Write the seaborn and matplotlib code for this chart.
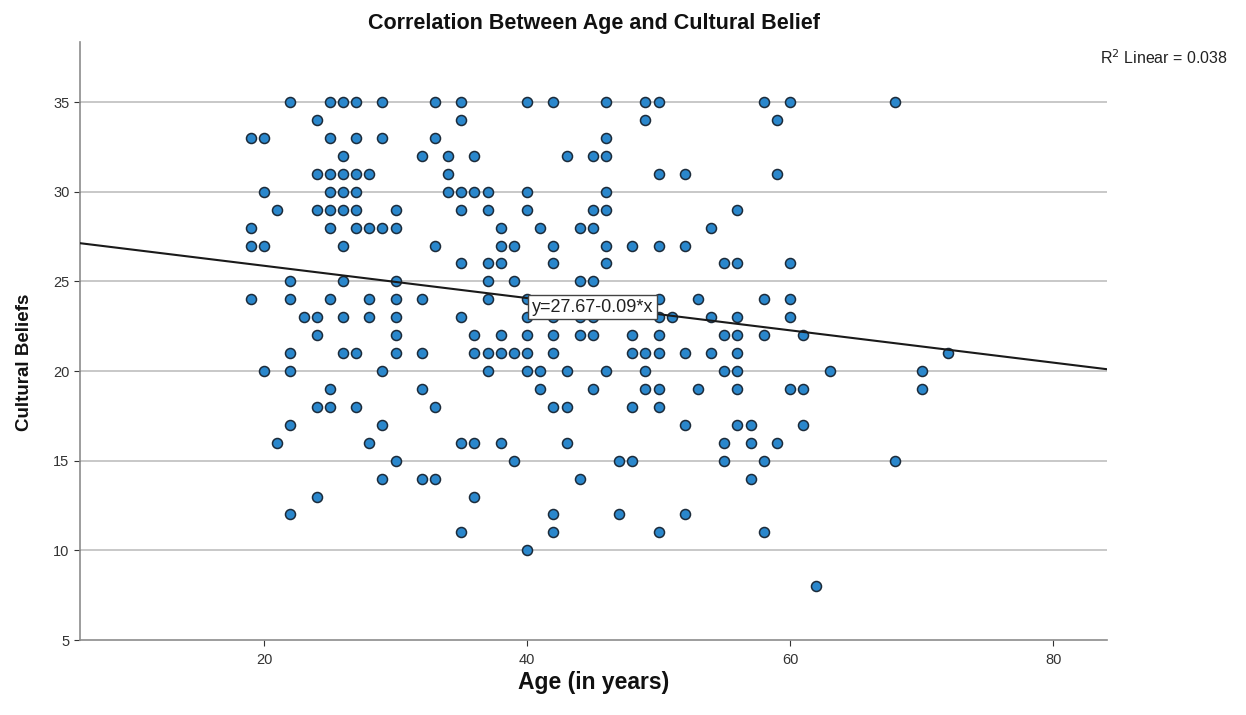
import numpy as np
import pandas as pd
import matplotlib
matplotlib.use("Agg")
import matplotlib.pyplot as plt
import seaborn as sns

# ---- data (age in years, cultural belief score) ----
b35 = [22, 25, 26, 27, 29, 33, 35, 40, 42, 46, 49, 50, 58, 60, 68]
b34 = [24, 35, 49, 59]
b33 = [19, 20, 25, 27, 29, 33, 46]
b32 = [26, 32, 34, 36, 43, 45, 46]
b31 = [24, 25, 26, 27, 28, 34, 50, 52, 59]
b30 = [20, 25, 26, 27, 34, 35, 36, 37, 40, 46]
b29 = [21, 24, 25, 26, 27, 30, 35, 37, 40, 45, 46, 56]
b28 = [19, 25, 27, 28, 29, 30, 38, 41, 44, 45, 54]
b27 = [19, 20, 26, 33, 38, 39, 42, 46, 48, 50, 52]
b26 = [35, 37, 38, 42, 46, 55, 56, 60]
b25 = [22, 26, 30, 37, 39, 44, 45]
b24 = [19, 22, 25, 28, 30, 32, 37, 40, 50, 53, 58, 60]
b23 = [23, 24, 26, 28, 30, 35, 40, 42, 44, 45, 50, 51, 54, 56, 60]
b22 = [24, 30, 36, 38, 40, 42, 44, 45, 48, 50, 55, 56, 58, 61]
b21 = [22, 26, 27, 30, 32, 36, 37, 38, 39, 40, 42, 48, 49, 50, 52, 54, 56, 72]
b20 = [20, 22, 29, 37, 40, 41, 43, 46, 49, 55, 56, 63, 70]
b19 = [25, 32, 41, 45, 49, 50, 53, 56, 60, 61, 70]
b18 = [24, 25, 27, 33, 42, 43, 48, 50]
b17 = [22, 29, 52, 56, 57, 61]
b16 = [21, 28, 35, 36, 38, 43, 55, 57, 59]
b15 = [30, 39, 47, 48, 55, 58, 68]
b14 = [29, 32, 33, 44, 57]
b13 = [24, 36]
b12 = [22, 42, 47, 52]
b11 = [35, 42, 50, 58]
b10 = [40]
b8 = [62]

rows = {35: b35, 34: b34, 33: b33, 32: b32, 31: b31, 30: b30, 29: b29, 28: b28,
        27: b27, 26: b26, 25: b25, 24: b24, 23: b23, 22: b22, 21: b21, 20: b20,
        19: b19, 18: b18, 17: b17, 16: b16, 15: b15, 14: b14, 13: b13, 12: b12,
        11: b11, 10: b10, 8: b8}

intercept = 27.67
slope = -0.09
r2_text = "R$^2$ Linear = 0.038"
eq_text = "y=27.67-0.09*x"
y_ticks = [5, 10, 15, 20, 25, 30, 35]
x_ticks = [20, 40, 60, 80]

ages, beliefs = [], []
for score, alist in rows.items():
    ages += alist
    beliefs += [score] * len(alist)
df = pd.DataFrame({"Age": ages, "Belief": beliefs})

# ---- figure ----
sns.set_style("white")
plt.rcParams['font.family'] = ['Liberation Sans', 'DejaVu Sans']

fig = plt.figure(figsize=(12.46, 7.15), dpi=100)
ax = fig.add_axes([80/1246, 1 - 640/715, (1107-80)/1246, (640-42)/715])

xlim = (6, 84.1)
ylim = (5, 38.35)
ax.set_xlim(*xlim)
ax.set_ylim(*ylim)

for t in y_ticks[1:]:
    ax.axhline(t, color="#c8c8c8", lw=1.4, zorder=0)

sns.scatterplot(data=df, x="Age", y="Belief", ax=ax, s=52,
                color="#2a87cc", edgecolor="#1c2b3a", linewidth=1.1, zorder=3)

lx = np.array(xlim)
line_df = pd.DataFrame({"x": lx, "y": intercept + slope * lx})
sns.lineplot(data=line_df, x="x", y="y", ax=ax, color="#1a1a1a", lw=1.5, zorder=4)

ax.text(40.35, 23.55, eq_text, fontsize=13, ha="left", va="center", color="#222222",
        zorder=5, bbox=dict(boxstyle="square,pad=0.2", fc="white", ec="#444444", lw=1.0))

ax.set_xticks(x_ticks)
ax.set_yticks(y_ticks)
ax.tick_params(axis="both", labelsize=10.5, colors="#333333", length=4, width=0.8,
               direction="out", left=True, bottom=True)
ax.tick_params(axis="x", pad=5)
for s in ["top", "right"]:
    ax.spines[s].set_visible(False)
for s in ["left", "bottom"]:
    ax.spines[s].set_color("#8c8c8c")
    ax.spines[s].set_linewidth(1.2)

ax.set_xlabel("Age (in years)", fontsize=16.5, fontweight="bold", color="#111111")
ax.xaxis.set_label_coords(0.5, -(683 - 640) / 598, transform=ax.transAxes)
ax.xaxis.label.set_va("center")
ax.set_ylabel("Cultural Beliefs", fontsize=13.5, fontweight="bold", color="#111111")
ax.yaxis.set_label_coords(-(80 - 25) / 1027, (640 - 362) / 598, transform=ax.transAxes)
ax.yaxis.label.set_va("center")
ax.set_title("Correlation Between Age and Cultural Belief", fontsize=15.5, fontweight="bold",
             pad=9, color="#111111")

fig.text(1100/1246, 1 - 58/715, r2_text, fontsize=11.5, ha="left", va="center", color="#222222")

fig.savefig("out.png", dpi=100, facecolor="white")
